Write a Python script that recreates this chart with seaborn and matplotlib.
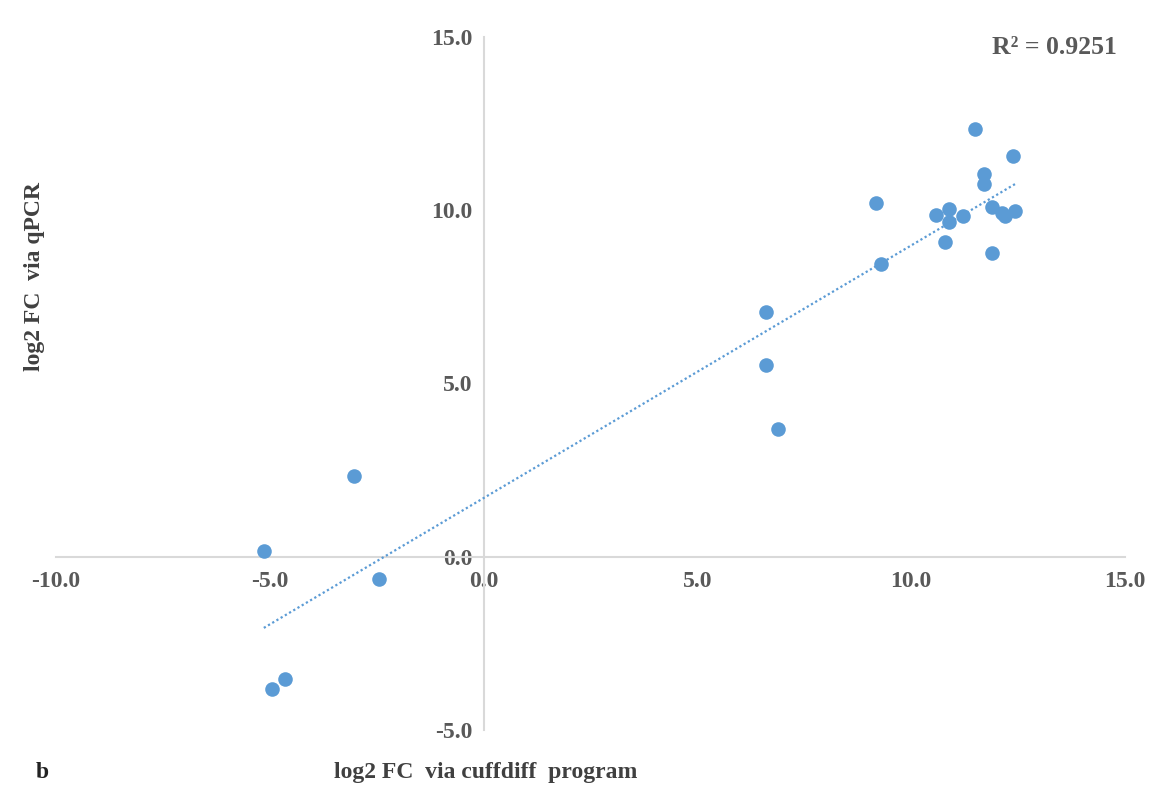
import numpy as np
import pandas as pd
import seaborn as sns
import matplotlib.pyplot as plt

# log2 fold change values
cuffdiff_fc = [11.49, 12.39, 11.69, 11.69, 9.17, 10.59, 10.89, 10.89, 11.21, 10.79,
               11.90, 9.29, 11.89, 12.13, 12.20, 12.43,
               6.60, 6.60, 6.89,
               -3.03, -5.14, -2.45, -4.95, -4.65]
qpcr_fc = [12.34, 11.57, 11.05, 10.76, 10.22, 9.86, 10.05, 9.66, 9.83, 9.07,
           8.76, 8.45, 10.10, 9.92, 9.84, 9.98,
           7.06, 5.54, 3.68,
           2.34, 0.17, -0.63, -3.82, -3.53]
r2_label = "R\u00b2 = 0.9251"
x_ticks = [-10, -5, 0, 5, 10, 15]
y_ticks = [-5, 0, 5, 10, 15]

df = pd.DataFrame({"cuffdiff": cuffdiff_fc, "qpcr": qpcr_fc})

sns.set_style("white")
plt.rcParams['font.family'] = ['Liberation Serif', 'DejaVu Serif']
plt.rcParams['font.weight'] = 'bold'

blue = "#5b9bd5"
grey_txt = "#595959"

fig = plt.figure(figsize=(11.62, 7.92), dpi=100)
ax = fig.add_axes([0.0482, 0.0783, 0.92, 0.875])

sns.scatterplot(data=df, x="cuffdiff", y="qpcr", color=blue, s=110,
                edgecolor=blue, linewidth=0, ax=ax, zorder=3)
sns.regplot(data=df, x="cuffdiff", y="qpcr", scatter=False, ci=None, ax=ax,
            line_kws={"color": blue, "linestyle": (0, (1, 1.2)), "linewidth": 1.6})

ax.set_xlim(-10, 15)
ax.set_ylim(-5, 15)
ax.set_xticks(x_ticks)
ax.set_yticks(y_ticks)
ax.set_xticklabels([f"{v:.1f}" for v in x_ticks])
ax.set_yticklabels([f"{v:.1f}" for v in y_ticks])

# axes crossing at the origin
for side in ["top", "right"]:
    ax.spines[side].set_visible(False)
ax.spines["left"].set_position(("data", 0))
ax.spines["bottom"].set_position(("data", 0))
for side in ["left", "bottom"]:
    ax.spines[side].set_color("#d9d9d9")
    ax.spines[side].set_linewidth(1.5)
    ax.spines[side].set_zorder(1)
ax.tick_params(axis="both", length=0, labelsize=17, labelcolor=grey_txt)
ax.tick_params(axis="x", pad=10)
ax.tick_params(axis="y", pad=8)
for lbl in ax.get_xticklabels() + ax.get_yticklabels():
    lbl.set_fontweight("bold")

ax.set_xlabel("")
ax.set_ylabel("")
fig.text(0.418, 0.024, "log2 FC  via cuffdiff  program", fontsize=17,
         fontweight="bold", color="#404040", ha="center", va="center")
fig.text(0.030, 0.651, "log2 FC  via qPCR", fontsize=17, fontweight="bold",
         color="#404040", ha="center", va="center", rotation=90)
fig.text(0.036, 0.024, "b", fontsize=17, fontweight="bold", color="#222222",
         ha="center", va="center")
ax.text(14.8, 14.7, r2_label, fontsize=18.5, fontweight="bold", color=grey_txt,
        ha="right", va="center")

fig.savefig("out.png", dpi=100)
